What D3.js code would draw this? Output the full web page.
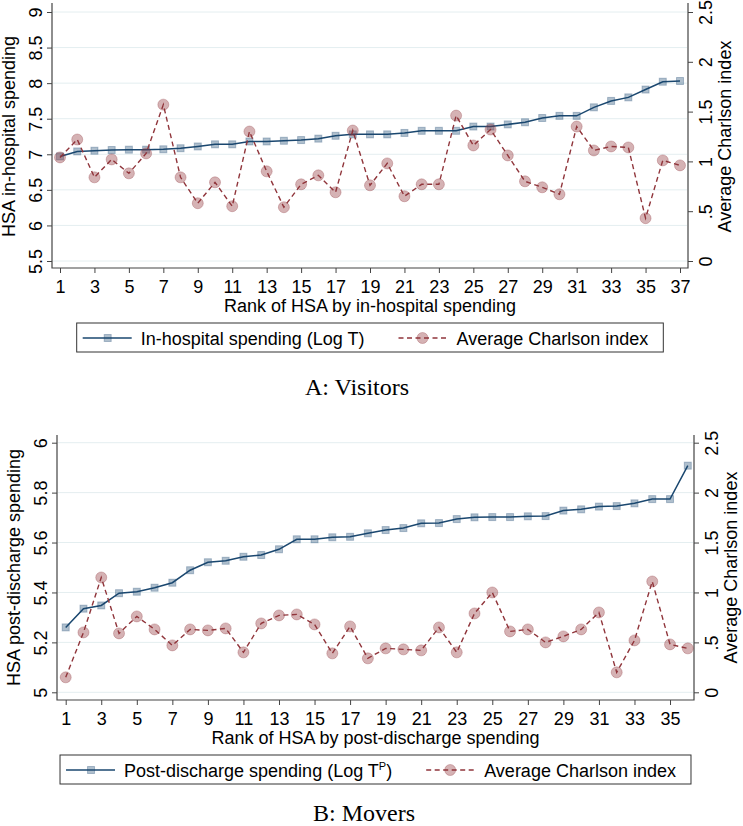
<!DOCTYPE html>
<html>
<head>
<meta charset="utf-8">
<script src="https://cdn.jsdelivr.net/npm/d3@7"></script>
<style>
  body { margin: 0; background: #fff; }
  text { font-family: "Liberation Sans", Arial, Helvetica, sans-serif; fill: #000; }
  text.title { font-family: "Liberation Serif", "Times New Roman", serif; }
</style>
</head>
<body>
<div id="chart"></div>
<script>
// Panel A: visitors, HSAs ranked by in-hospital spending
const spendingA = [6.97, 7.04, 7.05, 7.06, 7.065, 7.065, 7.07, 7.085, 7.11, 7.14,
  7.14, 7.18, 7.18, 7.19, 7.20, 7.22, 7.26, 7.28, 7.28, 7.28,
  7.30, 7.33, 7.33, 7.33, 7.39, 7.39, 7.42, 7.45, 7.51, 7.54,
  7.54, 7.66, 7.75, 7.80, 7.91, 8.02, 8.03]
const charlsonA = [1.04, 1.22, 0.84, 1.02, 0.88, 1.08, 1.57, 0.84, 0.58, 0.79,
  0.55, 1.30, 0.90, 0.54, 0.77, 0.86, 0.69, 1.31, 0.76, 0.98,
  0.65, 0.77, 0.77, 1.46, 1.16, 1.32, 1.06, 0.80, 0.74, 0.67,
  1.35, 1.11, 1.15, 1.14, 0.43, 1.01, 0.96]

// Panel B: movers, HSAs ranked by post-discharge spending
const spendingB = [5.260, 5.335, 5.348, 5.397, 5.403, 5.419, 5.439, 5.489, 5.521, 5.527,
  5.543, 5.550, 5.573, 5.613, 5.613, 5.621, 5.623, 5.637, 5.650, 5.658,
  5.677, 5.678, 5.694, 5.701, 5.702, 5.702, 5.705, 5.706, 5.728, 5.733,
  5.744, 5.746, 5.757, 5.774, 5.774, 5.908]
const charlsonB = [0.15, 0.60, 1.15, 0.59, 0.76, 0.63, 0.47, 0.63, 0.62, 0.64,
  0.40, 0.69, 0.77, 0.78, 0.68, 0.39, 0.66, 0.34, 0.44, 0.43,
  0.42, 0.65, 0.40, 0.79, 1.00, 0.61, 0.63, 0.50, 0.56, 0.63,
  0.80, 0.20, 0.52, 1.11, 0.48, 0.44]

// Tick values
const xTicksA = [1, 3, 5, 7, 9, 11, 13, 15, 17, 19, 21, 23, 25, 27, 29, 31, 33, 35, 37]
const xTicksB = [1, 3, 5, 7, 9, 11, 13, 15, 17, 19, 21, 23, 25, 27, 29, 31, 33, 35]
const yTicksA = [5.5, 6, 6.5, 7, 7.5, 8, 8.5, 9]
const yTicksB = [5, 5.2, 5.4, 5.6, 5.8, 6]
const charlsonTicks = [0, 0.5, 1, 1.5, 2, 2.5]

const blue = '#1a476f'
const red = '#90353b'
const axisColor = '#444'

const svg = d3.select('#chart').append('svg')
  .attr('width', 743)
  .attr('height', 826)

const fmt = (d) => d === 0 ? '0' : String(d).replace(/^0\./, '.')

// d3 axis sets its own font attrs, so restyle after the call
function styleAxis(sel) {
  sel.attr('font-size', 18).attr('font-family', null).attr('color', axisColor)
  sel.select('.domain').remove()
}

function drawPanel(p) {
  const n = p.spending.length
  const x = d3.scaleLinear().domain([1, n]).range([p.x0, p.x1])
  const y = d3.scaleLinear().domain(d3.extent(p.yTicks)).range([p.yBottom, p.yTop])
  const y2 = d3.scaleLinear().domain(d3.extent(charlsonTicks)).range([p.yBottom, p.yTop])
  const g = svg.append('g')

  // gridlines
  g.selectAll('line.grid')
    .data(p.yTicks)
    .enter()
    .append('line')
    .attr('class', 'grid')
    .attr('x1', p.left + 1).attr('x2', p.right - 1)
    .attr('y1', (d) => y(d)).attr('y2', (d) => y(d))
    .attr('stroke', '#e4eef0')
    .attr('stroke-width', 1)

  // x axis
  const xAxis = d3.axisBottom(x).tickValues(p.xTicks).tickSize(5).tickPadding(7).tickSizeOuter(0)
  const xg = g.append('g')
    .attr('transform', `translate(0, ${p.axisBottom})`)
    .call(xAxis)
    .call(styleAxis)

  // left axis
  const yAxis = d3.axisLeft(y).tickValues(p.yTicks).tickSize(5).tickFormat(fmt)
  const yg = g.append('g')
    .attr('transform', `translate(${p.left}, 0)`)
    .call(yAxis)
    .call(styleAxis)
  yg.selectAll('text')
    .attr('x', null).attr('dy', null)
    .attr('text-anchor', 'middle')
    .attr('transform', 'translate(-10, 0) rotate(-90)')

  // right axis
  const y2Axis = d3.axisRight(y2).tickValues(charlsonTicks).tickSize(5).tickFormat(fmt)
  const y2g = g.append('g')
    .attr('transform', `translate(${p.right}, 0)`)
    .call(y2Axis)
    .call(styleAxis)
  y2g.selectAll('text')
    .attr('x', null).attr('dy', null)
    .attr('text-anchor', 'middle')
    .attr('transform', 'translate(24, 0) rotate(-90)')

  // axis lines
  g.append('path')
    .attr('d', `M${p.left},${p.axisTop}V${p.axisBottom}H${p.right}V${p.axisTop}`)
    .attr('fill', 'none')
    .attr('stroke', axisColor)
    .attr('stroke-width', 1.2)

  // axis titles
  g.append('text')
    .attr('text-anchor', 'middle')
    .attr('font-size', 18)
    .attr('transform', `translate(${p.left - 37}, ${(p.yTop + p.yBottom) / 2}) rotate(-90)`)
    .text(p.yTitle)
  g.append('text')
    .attr('text-anchor', 'middle')
    .attr('font-size', 18)
    .attr('transform', `translate(${p.right + 43}, ${(p.yTop + p.yBottom) / 2}) rotate(-90)`)
    .text('Average Charlson index')
  g.append('text')
    .attr('text-anchor', 'middle')
    .attr('font-size', 18)
    .attr('x', (p.left + p.right) / 2)
    .attr('y', p.axisBottom + 44)
    .text(p.xTitle)

  // spending series
  const spendLine = d3.line().x((d, i) => x(i + 1)).y((d) => y(d))
  g.append('path')
    .datum(p.spending)
    .attr('d', spendLine)
    .attr('fill', 'none')
    .attr('stroke', blue)
    .attr('stroke-width', 1.5)
  g.selectAll('rect.sq')
    .data(p.spending)
    .enter()
    .append('rect')
    .attr('class', 'sq')
    .attr('x', (d, i) => x(i + 1) - 3.5)
    .attr('y', (d) => y(d) - 3.5)
    .attr('width', 7).attr('height', 7)
    .attr('fill', 'rgba(26,71,111,0.35)')
    .attr('stroke', 'rgba(26,71,111,0.3)')

  // charlson series
  const charlLine = d3.line().x((d, i) => x(i + 1)).y((d) => y2(d))
  g.append('path')
    .datum(p.charlson)
    .attr('d', charlLine)
    .attr('fill', 'none')
    .attr('stroke', red)
    .attr('stroke-width', 1.4)
    .attr('stroke-dasharray', '5,3.5')
  g.selectAll('circle.ch')
    .data(p.charlson)
    .enter()
    .append('circle')
    .attr('class', 'ch')
    .attr('cx', (d, i) => x(i + 1))
    .attr('cy', (d) => y2(d))
    .attr('r', 5.5)
    .attr('fill', 'rgba(144,53,59,0.38)')
    .attr('stroke', 'rgba(144,53,59,0.3)')

  // legend
  const lg = g.append('g')
  const box = lg.append('rect')
    .attr('height', 29)
    .attr('fill', '#fff')
    .attr('stroke', '#333')
    .attr('stroke-width', 1)
  const ly = 15
  lg.append('line').attr('x1', 6).attr('x2', 55).attr('y1', ly).attr('y2', ly)
    .attr('stroke', blue).attr('stroke-width', 1.5)
  lg.append('rect').attr('x', 27.5).attr('y', ly - 3.5).attr('width', 7).attr('height', 7)
    .attr('fill', 'rgba(26,71,111,0.35)').attr('stroke', 'rgba(26,71,111,0.3)')
  const t1 = lg.append('text').attr('x', 64).attr('y', 22).attr('font-size', 18)
  t1.append('tspan').text(p.legendSpend)
  if (p.legendSup) {
    t1.append('tspan').attr('font-size', 11).attr('dy', -7).text(p.legendSup)
    t1.append('tspan').attr('dy', 7).text(')')
  }
  const x2 = 64 + t1.node().getComputedTextLength() + 34
  lg.append('line').attr('x1', x2).attr('x2', x2 + 49).attr('y1', ly).attr('y2', ly)
    .attr('stroke', red).attr('stroke-width', 1.4).attr('stroke-dasharray', '5,3.5')
  lg.append('circle').attr('cx', x2 + 24).attr('cy', ly).attr('r', 5.5)
    .attr('fill', 'rgba(144,53,59,0.38)').attr('stroke', 'rgba(144,53,59,0.3)')
  const t2 = lg.append('text').attr('x', x2 + 58).attr('y', 22).attr('font-size', 18)
    .text('Average Charlson index')
  const boxW = x2 + 58 + t2.node().getComputedTextLength() + 15
  box.attr('width', boxW)
  lg.attr('transform', `translate(${(p.left + p.right) / 2 - boxW / 2}, ${p.legendTop})`)

  // panel title
  g.append('text')
    .attr('class', 'title')
    .attr('text-anchor', 'middle')
    .attr('font-size', 24)
    .attr('x', p.titleX)
    .attr('y', p.titleY)
    .text(p.title)
}

drawPanel({
  spending: spendingA, charlson: charlsonA,
  xTicks: xTicksA, yTicks: yTicksA,
  left: 52, right: 688, axisTop: 3, axisBottom: 268,
  x0: 60, x1: 680, yTop: 12, yBottom: 261,
  yTitle: 'HSA in-hospital spending',
  xTitle: 'Rank of HSA by in-hospital spending',
  legendSpend: 'In-hospital spending (Log T)',
  legendTop: 323,
  title: 'A: Visitors', titleX: 357, titleY: 395
})

drawPanel({
  spending: spendingB, charlson: charlsonB,
  xTicks: xTicksB, yTicks: yTicksB,
  left: 57, right: 694, axisTop: 435, axisBottom: 700,
  x0: 65.7, x1: 687.8, yTop: 442.7, yBottom: 692.3,
  yTitle: 'HSA post-discharge spending',
  xTitle: 'Rank of HSA by post-discharge spending',
  legendSpend: 'Post-discharge spending (Log T',
  legendSup: 'P',
  legendTop: 755,
  title: 'B: Movers', titleX: 364, titleY: 821
})
</script>
</body>
</html>
